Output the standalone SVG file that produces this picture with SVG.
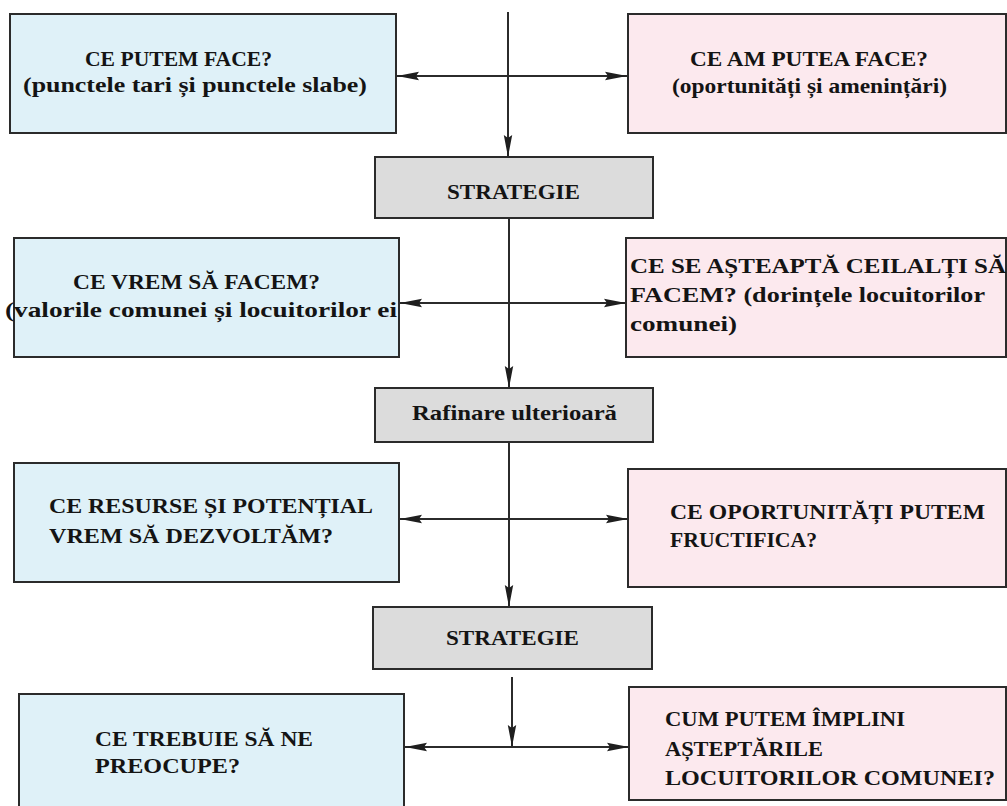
<svg xmlns="http://www.w3.org/2000/svg" width="1007" height="806" viewBox="0 0 1007 806">
<style>
.box{stroke:#2b2b2b;stroke-width:2}
.blue{fill:#dff1f8}
.pink{fill:#fce9ee}
.gray{fill:#dcdcdc}
.t{font-family:"Liberation Serif","Times New Roman",serif;font-weight:bold;font-size:22px;fill:#141414}
.ln{stroke:#2b2b2b;stroke-width:2;fill:none}
</style>
<defs>
<marker id="ah" viewBox="0 0 26 10" markerUnits="userSpaceOnUse" markerWidth="26" markerHeight="10" refX="25" refY="5" orient="auto-start-reverse">
<path d="M25,5 L3,0.8 L6,5 L3,9.2 Z" fill="#1e1e1e"/>
</marker>
</defs>
<rect width="1007" height="806" fill="#ffffff"/>

<g id="connectors">
<line class="ln" x1="508" y1="12" x2="508" y2="157" marker-end="url(#ah)"/>
<line class="ln" x1="397" y1="76" x2="627" y2="76" marker-start="url(#ah)" marker-end="url(#ah)"/>
<line class="ln" x1="509" y1="219" x2="509" y2="388" marker-end="url(#ah)"/>
<line class="ln" x1="400" y1="303" x2="626" y2="303" marker-start="url(#ah)" marker-end="url(#ah)"/>
<line class="ln" x1="509" y1="443" x2="509" y2="607" marker-end="url(#ah)"/>
<line class="ln" x1="400" y1="519" x2="628" y2="519" marker-start="url(#ah)" marker-end="url(#ah)"/>
<line class="ln" x1="512" y1="677" x2="512" y2="747" marker-end="url(#ah)"/>
<line class="ln" x1="405" y1="747" x2="629" y2="747" marker-start="url(#ah)" marker-end="url(#ah)"/>
</g>

<g id="n1">
<rect class="box blue" x="10" y="14" width="386" height="119"/>
<text class="t" x="85" y="66" textLength="187" lengthAdjust="spacingAndGlyphs">CE PUTEM FACE?</text>
<text class="t" x="23" y="92" textLength="344" lengthAdjust="spacingAndGlyphs">(punctele tari și punctele slabe)</text>
</g>
<g id="n2">
<rect class="box pink" x="628" y="14" width="378" height="119"/>
<text class="t" x="690" y="66" textLength="238" lengthAdjust="spacingAndGlyphs">CE AM PUTEA FACE?</text>
<text class="t" x="672" y="93" textLength="275" lengthAdjust="spacingAndGlyphs">(oportunități și amenințări)</text>
</g>
<g id="n3">
<rect class="box gray" x="375" y="157" width="278" height="61"/>
<text class="t" x="447" y="199" textLength="133" lengthAdjust="spacingAndGlyphs">STRATEGIE</text>
</g>
<g id="n4">
<rect class="box blue" x="14" y="238" width="385" height="119"/>
<text class="t" x="73" y="289" textLength="247" lengthAdjust="spacingAndGlyphs">CE VREM SĂ FACEM?</text>
<text class="t" x="5" y="317" textLength="392" lengthAdjust="spacingAndGlyphs">(valorile comunei și locuitorilor ei</text>
</g>
<g id="n5">
<rect class="box pink" x="626" y="238" width="380" height="119"/>
<text class="t" x="630" y="273" textLength="376" lengthAdjust="spacingAndGlyphs">CE SE AȘTEAPTĂ CEILALȚI SĂ</text>
<text class="t" x="630" y="302" textLength="355" lengthAdjust="spacingAndGlyphs">FACEM? (dorințele locuitorilor</text>
<text class="t" x="630" y="331" textLength="107" lengthAdjust="spacingAndGlyphs">comunei)</text>
</g>
<g id="n6">
<rect class="box gray" x="375" y="388" width="278" height="54"/>
<text class="t" x="412" y="420" textLength="205" lengthAdjust="spacingAndGlyphs">Rafinare ulterioară</text>
</g>
<g id="n7">
<rect class="box blue" x="14" y="463" width="385" height="119"/>
<text class="t" x="49" y="513" textLength="324" lengthAdjust="spacingAndGlyphs">CE RESURSE ȘI POTENȚIAL</text>
<text class="t" x="49" y="543" textLength="284" lengthAdjust="spacingAndGlyphs">VREM SĂ DEZVOLTĂM?</text>
</g>
<g id="n8">
<rect class="box pink" x="628" y="469" width="378" height="118"/>
<text class="t" x="670" y="519" textLength="315" lengthAdjust="spacingAndGlyphs">CE OPORTUNITĂȚI PUTEM</text>
<text class="t" x="670" y="547" textLength="147" lengthAdjust="spacingAndGlyphs">FRUCTIFICA?</text>
</g>
<g id="n9">
<rect class="box gray" x="373" y="607" width="279" height="62"/>
<text class="t" x="446" y="645" textLength="133" lengthAdjust="spacingAndGlyphs">STRATEGIE</text>
</g>
<g id="n10">
<rect class="box blue" x="19" y="694" width="385" height="120"/>
<text class="t" x="95" y="746" textLength="218" lengthAdjust="spacingAndGlyphs">CE TREBUIE SĂ NE</text>
<text class="t" x="95" y="773" textLength="145" lengthAdjust="spacingAndGlyphs">PREOCUPE?</text>
</g>
<g id="n11">
<rect class="box pink" x="629" y="687" width="377" height="113"/>
<text class="t" x="665" y="726" textLength="240" lengthAdjust="spacingAndGlyphs">CUM PUTEM ÎMPLINI</text>
<text class="t" x="665" y="756" textLength="158" lengthAdjust="spacingAndGlyphs">AȘTEPTĂRILE</text>
<text class="t" x="665" y="785" textLength="330" lengthAdjust="spacingAndGlyphs">LOCUITORILOR COMUNEI?</text>
</g>
</svg>
